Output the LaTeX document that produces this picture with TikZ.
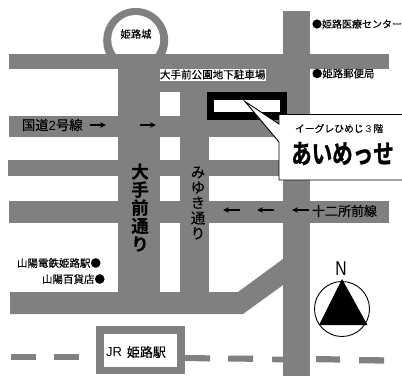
\documentclass[tikz,border=0pt]{standalone}
\usepackage{fontspec}
\usepackage{graphicx}
\setmainfont{Noto Sans CJK JP}[BoldFont={Noto Sans CJK JP Bold},FakeBold=0.25]
\newfontfamily\latinfont{Liberation Sans}
\newfontfamily\heavyfont{Noto Sans CJK JP Bold}[FakeBold=1.2]
\usetikzlibrary{arrows.meta}
\definecolor{roadgray}{HTML}{808080}
\newcommand{\fs}[1]{\fontsize{#1}{#1}\selectfont}
\tikzset{
  road/.style={fill=roadgray,draw=none},
  label/.style={inner sep=0pt,outer sep=0pt,text=black},
  flow/.style={-{Stealth[length=6pt,width=5.5pt]},line width=1.2pt,black},
  vert/.style={label,align=center},
}
\begin{document}
\begin{tikzpicture}[x=1pt,y=-1pt]
\useasboundingbox (0,0) rectangle (402,376);
\fill[white] (0,0) rectangle (402,376);
% castle ring
\fill[roadgray] (135.7,40.5) circle (32.5);
\fill[white] (135.7,39.5) circle (24.5);
% horizontal roads
\fill[road] (9,54) rectangle (389,69);
\fill[road] (160,69) rectangle (283,92);
\fill[road] (9,116) rectangle (283,137);
\fill[road] (8,160) rectangle (283,176);
\fill[road] (9,201) rectangle (389,223);
\fill[road] (10,292) -- (238,292) -- (283,259) -- (283,285) -- (243,314) -- (10,314) -- cycle;
% vertical roads
\fill[road] (118,54) rectangle (160,300);
\fill[road] (180,69) rectangle (209,300);
\fill[road] (283,11) rectangle (310,376);
% railway
\fill[road] (11,353.5) -- (36,353.5) -- (36,360) -- (11,360) -- cycle;
\fill[road] (54,353.8) -- (79,353.8) -- (79,360.2) -- (54,360.2) -- cycle;
\fill[road] (185,355) -- (210,355.3) -- (210,361.5) -- (185,361) -- cycle;
\fill[road] (228,355.5) -- (253,355.7) -- (253,361.8) -- (228,361.6) -- cycle;
\fill[road] (272,356.5) -- (283,356.6) -- (283,362.4) -- (272,362.2) -- cycle;
\fill[road] (316,356) -- (340,356.4) -- (340,362.6) -- (316,362.2) -- cycle;
\fill[road] (359,357) -- (384,357.3) -- (384,363.6) -- (359,363.3) -- cycle;
% JR station
\fill[road] (96,326) rectangle (185,374);
\fill[white] (104,334) rectangle (177,367);
\node[label,anchor=west,font=\fs{13}] (jr) at (106,352) {{\latinfont JR}\hspace{5pt}姫路駅};
% parking label
\fill[white] (160,69) rectangle (266,81);
\node[label,anchor=west,font=\fs{10.55}] (park) at (160,74.5) {大手前公園地下駐車場};
% building
\fill[black] (207,92) rectangle (286.5,119.5);
\fill[white] (214,100) rectangle (280,112);
% callout
\filldraw[fill=white,draw=black,line width=0.9pt] (279,114.5) -- (403,114.5) -- (403,180) -- (279,180) -- (279,142) -- (245,101.5) -- (279,124) -- cycle;
\node[label,anchor=west,font=\fs{9.8}] (floor) at (295,128.5) {イーグレひめじ {\latinfont 3} 階};
\node[label,font=\heavyfont\fs{20.5}] (name) at (342.5,153.5) {\scalebox{1}[1.3]{あいめっせ}};
% labels
\node[label,font=\fs{10.3}] (castle) at (136,34) {姫路城};
\node[label,anchor=west,font=\fs{10}] (med) at (312,24) {●姫路医療センター};
\node[label,anchor=west,font=\fs{10.4}] (post) at (312,73.5) {●姫路郵便局};
\node[label,anchor=west,font=\fs{13.3}] (r2) at (22,125) {国道{\latinfont 2}号線};
\node[label,anchor=west,font=\fs{13}] (r12) at (312,211) {十二所前線};
\node[label,anchor=east,font=\fs{10.5}] (sanyo) at (101,263) {山陽電鉄姫路駅●};
\node[label,anchor=east,font=\fs{10.5}] (dept) at (105,279) {山陽百貨店●};
\node[vert,font=\bfseries\fs{17.5}] (ote) at (140,207.5) {大\\[0.6pt]手\\[0.6pt]前\\[0.6pt]通\\[0.6pt]り};
\node[vert,font=\fs{14.5}] (miyuki) at (198,203) {み\\[0.8pt]ゆ\\[0.8pt]き\\[0.8pt]通\\[0.8pt]り};
% flow arrows
\coordinate (a1s) at (90,125); \coordinate (a1e) at (106,125);
\coordinate (a2s) at (140,125); \coordinate (a2e) at (156,125);
\coordinate (b1s) at (309,210); \coordinate (b1e) at (292,210);
\coordinate (b2s) at (274,210); \coordinate (b2e) at (257,210);
\coordinate (b3s) at (240,210); \coordinate (b3e) at (223,210);
\draw[flow] (a1s) -- (a1e);
\draw[flow] (a2s) -- (a2e);
\draw[flow] (b1s) -- (b1e);
\draw[flow] (b2s) -- (b2e);
\draw[flow] (b3s) -- (b3e);
% compass
\draw[black,line width=0.9pt] (342,309) circle (27.5);
\fill[black] (342,279) -- (367.5,325) -- (319,325) -- cycle;
\node[label,font=\latinfont\fs{20}] (north) at (341,268.5) {\scalebox{0.78}[1]{N}};
\end{tikzpicture}
\end{document}
